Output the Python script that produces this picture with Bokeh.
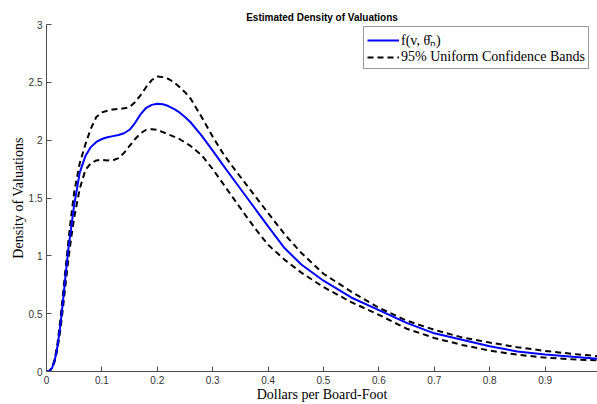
from bokeh.plotting import figure
from bokeh.models import Range1d, FixedTicker, Legend, LegendItem
from bokeh.embed import file_html
from bokeh.resources import INLINE

# Valuation grid (dollars per board-foot)
x = [0.0, 0.005, 0.01, 0.015, 0.02, 0.025, 0.03, 0.035, 0.04, 0.045, 0.05,
     0.06, 0.07, 0.08, 0.09, 0.10, 0.11, 0.12, 0.13, 0.14, 0.15, 0.16, 0.17,
     0.18, 0.19, 0.20, 0.21, 0.22, 0.23, 0.24, 0.25, 0.26, 0.28, 0.30, 0.32,
     0.34, 0.36, 0.38, 0.40, 0.43, 0.46, 0.50, 0.55, 0.60, 0.65, 0.70, 0.75,
     0.80, 0.85, 0.90, 0.95, 1.00]

# Estimated density f(v, theta_hat_n)
density = [0.0, 0.005, 0.03, 0.10, 0.22, 0.40, 0.62, 0.86, 1.08, 1.26, 1.44,
           1.72, 1.86, 1.94, 1.985, 2.01, 2.025, 2.035, 2.045, 2.06, 2.09, 2.15,
           2.225, 2.28, 2.305, 2.315, 2.31, 2.295, 2.27, 2.24, 2.2, 2.155, 2.04,
           1.91, 1.775, 1.645, 1.515, 1.385, 1.255, 1.065, 0.925, 0.785, 0.64,
           0.53, 0.42, 0.33, 0.275, 0.218, 0.173, 0.148, 0.127, 0.108]

# 95% uniform confidence bands
upper = [0.0, 0.005, 0.03, 0.11, 0.25, 0.45, 0.68, 0.92, 1.15, 1.36, 1.55,
         1.80, 1.96, 2.10, 2.20, 2.24, 2.255, 2.265, 2.27, 2.275, 2.285, 2.33,
         2.39, 2.46, 2.52, 2.55, 2.545, 2.53, 2.50, 2.46, 2.415, 2.36, 2.20,
         2.03, 1.875, 1.745, 1.62, 1.495, 1.37, 1.185, 1.025, 0.845, 0.69,
         0.55, 0.44, 0.36, 0.295, 0.25, 0.21, 0.178, 0.152, 0.13]

lower = [0.0, 0.005, 0.025, 0.09, 0.20, 0.36, 0.56, 0.78, 0.99, 1.17, 1.33,
         1.58, 1.74, 1.80, 1.825, 1.83, 1.825, 1.826, 1.845, 1.89, 1.95, 2.01,
         2.06, 2.09, 2.095, 2.09, 2.07, 2.05, 2.03, 2.01, 1.98, 1.95, 1.87,
         1.75, 1.615, 1.48, 1.345, 1.215, 1.095, 0.965, 0.855, 0.73, 0.60,
         0.49, 0.37, 0.29, 0.23, 0.18, 0.145, 0.12, 0.105, 0.095]

x_ticks = [0, 0.1, 0.2, 0.3, 0.4, 0.5, 0.6, 0.7, 0.8, 0.9]
y_ticks = [0, 0.5, 1, 1.5, 2, 2.5, 3]

AXIS_COLOR = "#4d4d4d"
SERIF = "Liberation Serif"
SANS = "Liberation Sans"
DASH = "6 4"

p = figure(width=597, height=404, output_backend="svg", toolbar_location=None,
           x_range=Range1d(0, 0.9946), y_range=Range1d(0, 3),
           min_border_left=46, min_border_right=0, min_border_top=24,
           min_border_bottom=31)
p.outline_line_color = None
p.background_fill_color = "white"
p.border_fill_color = "white"
p.xgrid.visible = False
p.ygrid.visible = False

p.title.text = "Estimated Density of Valuations"
p.title.align = "center"
p.title.text_font = SANS
p.title.text_font_style = "bold"
p.title.text_font_size = "10px"
p.title.text_color = "black"
p.title.standoff = 4

for ax, ticks in ((p.xaxis, x_ticks), (p.yaxis, y_ticks)):
    ax.ticker = FixedTicker(ticks=ticks)
    ax.axis_line_color = AXIS_COLOR
    ax.major_tick_line_color = AXIS_COLOR
    ax.major_tick_in = 5
    ax.major_tick_out = 0
    ax.minor_tick_line_color = None
    ax.major_label_text_font = SANS
    ax.major_label_text_font_size = "10px"
    ax.major_label_text_color = "#333333"
    ax.major_label_text_line_height = 1.0
    ax.axis_label_text_font = SERIF
    ax.axis_label_text_font_size = "14px"
    ax.axis_label_text_font_style = "normal"
    ax.axis_label_text_color = "black"
    ax.axis_label_text_line_height = 1.0
    ax.axis_label_standoff = 0

p.xaxis.major_label_overrides = {0: "0"}
p.yaxis.major_label_overrides = {0: "0", 1: "1", 2: "2", 3: "3"}
p.xaxis.major_label_standoff = 4
p.yaxis.major_label_standoff = 4
p.xaxis.axis_label_standoff = 0
p.xaxis.axis_label = "Dollars per Board-Foot"
p.yaxis.axis_label = "Density of Valuations"

r_up = p.line(x, upper, line_color="black", line_width=2, line_dash=DASH)
r_lo = p.line(x, lower, line_color="black", line_width=2, line_dash=DASH)
r_f = p.line(x, density, line_color="#0000ff", line_width=2)

legend = Legend(items=[
    LegendItem(label="f(v, θ̂ₙ)", renderers=[r_f]),
    LegendItem(label="95% Uniform Confidence Bands", renderers=[r_up]),
], location=(317, 302))
legend.padding = 3
legend.spacing = 0
legend.margin = 0
legend.glyph_width = 32
legend.glyph_height = 14
legend.label_height = 14
legend.label_standoff = 2
legend.label_text_line_height = 1.0
legend.label_text_font = SERIF
legend.label_text_font_size = "14px"
legend.label_text_color = "black"
legend.border_line_color = "#333333"
legend.border_line_width = 1
legend.background_fill_color = "white"
legend.background_fill_alpha = 1.0
p.add_layout(legend)

open("out.html", "w").write(file_html(p, INLINE))
